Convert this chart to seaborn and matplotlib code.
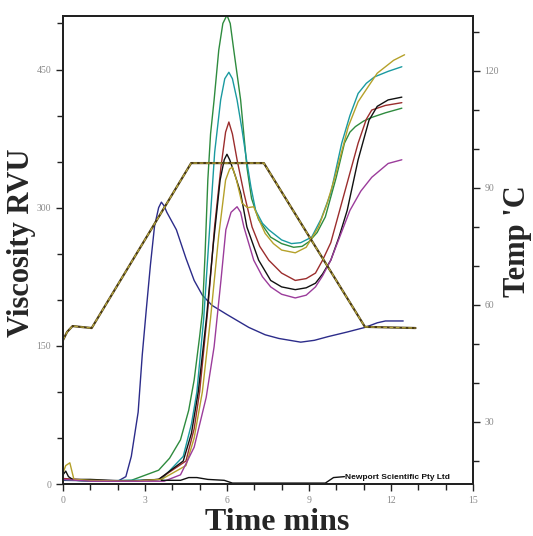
import numpy as np
import pandas as pd
import matplotlib
matplotlib.use("Agg")
import matplotlib.pyplot as plt
import seaborn as sns
from matplotlib.ticker import MultipleLocator

# RVA pasting curves, viscosity (RVU) vs time (min)
blue_t = [0, 2.0, 2.3, 2.5, 2.75, 2.9, 3.05, 3.2, 3.35, 3.5, 3.6, 3.7, 3.8, 4.15, 4.5, 4.8, 5.1, 5.45, 6.0, 6.8, 7.4, 7.9, 8.7, 9.2, 9.7, 10.4, 11.05, 11.5, 11.8, 12.45]
blue_v = [4, 3, 8, 30, 78, 140, 190, 238, 280, 300, 306, 302, 295, 276, 245, 221, 205, 194, 184, 170, 162, 158, 154, 156, 160, 165, 170, 175, 177, 177]

green_t = [0, 1.0, 2.5, 3.5, 3.9, 4.3, 4.6, 4.8, 5.0, 5.1, 5.2, 5.3, 5.4, 5.53, 5.7, 5.85, 6.0, 6.12, 6.25, 6.5, 6.73, 6.9, 7.16, 7.6, 8.0, 8.44, 8.75, 9.0, 9.3, 9.6, 10.0, 10.3, 10.5, 10.7, 11.0, 11.3, 11.8, 12.4]
green_v = [5, 3, 4, 15, 28, 48, 80, 113, 160, 186, 250, 330, 380, 417, 471, 500, 509, 500, 471, 417, 344, 310, 287, 268, 261, 257, 258, 263, 273, 290, 333, 370, 382, 388, 394, 398, 403, 408]

teal_t = [0, 1.0, 2.5, 3.6, 4.4, 4.7, 4.9, 5.15, 5.35, 5.55, 5.77, 5.92, 6.07, 6.2, 6.37, 6.55, 6.7, 6.88, 7.05, 7.3, 7.53, 8.0, 8.36, 8.7, 9.1, 9.45, 9.8, 10.2, 10.5, 10.8, 11.1, 11.4, 11.9, 12.4]
teal_v = [5, 3, 4, 5, 30, 65, 100, 180, 270, 360, 417, 440, 447, 440, 417, 385, 355, 322, 297, 283, 276, 265, 261, 262, 268, 288, 316, 370, 400, 424, 435, 442, 448, 453]

red_t = [0, 1.0, 2.5, 3.5, 4.5, 4.8, 5.0, 5.3, 5.55, 5.78, 5.95, 6.07, 6.2, 6.37, 6.62, 6.92, 7.2, 7.53, 8.0, 8.5, 8.9, 9.24, 9.5, 9.8, 10.3, 10.8, 11.1, 11.3, 11.8, 12.4]
red_v = [6, 4, 3, 5, 25, 60, 100, 190, 280, 344, 382, 393, 380, 352, 316, 279, 258, 243, 229, 221, 223, 229, 243, 262, 316, 370, 396, 406, 411, 414]

black_t = [0, 0.1, 0.2, 0.35, 1.0, 2.5, 3.5, 4.4, 4.7, 4.95, 5.25, 5.5, 5.75, 5.9, 6.0, 6.1, 6.3, 6.5, 6.73, 7.16, 7.6, 8.0, 8.5, 8.9, 9.24, 9.5, 9.8, 10.1, 10.4, 10.8, 11.2, 11.5, 11.9, 12.4]
black_v = [10, 14, 8, 5, 5, 3, 5, 25, 55, 100, 180, 260, 330, 352, 358, 352, 335, 316, 279, 243, 221, 214, 211, 213, 218, 228, 243, 268, 297, 352, 395, 410, 417, 420]

yellow_t = [0, 0.1, 0.25, 0.4, 1.0, 2.5, 3.6, 4.5, 4.8, 5.1, 5.4, 5.7, 5.95, 6.1, 6.2, 6.35, 6.55, 6.75, 6.98, 7.2, 7.4, 7.7, 8.0, 8.5, 8.9, 9.35, 9.65, 9.95, 10.44, 10.8, 11.16, 11.5, 12.1, 12.5]
yellow_v = [12, 20, 23, 5, 4, 3, 5, 20, 50, 100, 180, 270, 330, 342, 344, 330, 305, 300, 301, 285, 272, 261, 254, 251, 257, 279, 303, 333, 388, 415, 431, 446, 460, 466]

purple_t = [0, 1.0, 2.5, 3.7, 4.3, 4.8, 5.24, 5.53, 5.78, 5.96, 6.15, 6.37, 6.5, 6.62, 6.98, 7.3, 7.6, 8.0, 8.5, 8.9, 9.24, 9.5, 9.8, 10.5, 10.9, 11.3, 11.9, 12.4]
purple_v = [5, 3, 3, 3, 10, 40, 94, 149, 221, 276, 295, 301, 295, 279, 243, 225, 214, 206, 202, 205, 214, 226, 243, 297, 318, 333, 348, 352]

base_t = [3.6, 4.3, 4.6, 4.9, 5.3, 5.9, 6.2, 9.6, 9.9, 10.3]
base_v = [4, 4, 7, 7, 5, 4, 1, 1, 7, 8]

# temperature profile ('C)
temp_t = [0, 0.15, 0.35, 1.05, 4.69, 7.35, 11.05, 12.9]
temp_c = [50.9, 53, 54.5, 54, 96.3, 96.3, 54.3, 54]

series = {
    "blue": (blue_t, blue_v, "#2c2c8a"),
    "green": (green_t, green_v, "#2e8b3e"),
    "teal": (teal_t, teal_v, "#1a9aa0"),
    "red": (red_t, red_v, "#9b2d2d"),
    "black": (black_t, black_v, "#111111"),
    "yellow": (yellow_t, yellow_v, "#b5a12a"),
    "purple": (purple_t, purple_v, "#9b3c9b"),
    "base": (base_t, base_v, "#111111"),
}

rows = []
for name, (t, v, _) in series.items():
    for ti, vi in zip(t, v):
        rows.append({"time": ti, "visc": vi, "sample": name})
df = pd.DataFrame(rows)
palette = {name: c for name, (_, _, c) in series.items()}

sns.set_style("ticks")
plt.rcParams["font.family"] = ["Liberation Serif", "DejaVu Serif"]

fig = plt.figure(figsize=(5.33, 5.36), dpi=100)
ax = fig.add_axes([0.1182, 0.097, 0.769, 0.873])

sns.lineplot(data=df, x="time", y="visc", hue="sample", palette=palette,
             estimator=None, sort=False, linewidth=1.0, legend=False, ax=ax)

ax.set_xlim(0, 15)
ax.set_ylim(0, 508)
ax.xaxis.set_major_locator(MultipleLocator(3))
ax.xaxis.set_minor_locator(MultipleLocator(1))
ax.yaxis.set_major_locator(MultipleLocator(150))
ax.yaxis.set_minor_locator(MultipleLocator(50))

ax2 = ax.twinx()
tdf = pd.DataFrame({"time": temp_t, "temp": temp_c})
sns.lineplot(data=tdf, x="time", y="temp", color="#4a3a14", linewidth=1.6, ax=ax2)
sns.lineplot(data=tdf, x="time", y="temp", color="#b8a83c", linewidth=0.9, ax=ax2)
ax2.lines[-1].set_dashes([3, 2])
ax2.set_ylim(14, 134)
ax2.yaxis.set_major_locator(MultipleLocator(30))
ax2.yaxis.set_minor_locator(MultipleLocator(10))

for a in (ax, ax2):
    for s in a.spines.values():
        s.set_visible(True)
        s.set_linewidth(1.4)
        s.set_color("#222222")
    a.tick_params(which="major", direction="out", length=5, width=1.0, color="#222222",
                  labelsize=7, labelcolor="#8a8a8a")
    a.tick_params(which="minor", direction="out", length=4, width=1.0, color="#222222")
    a.set_xlabel("")
    a.set_ylabel("")

ax.set_xticklabels([str(int(v)) for v in ax.get_xticks()])

fig.text(0.041, 0.547, "Viscosity RVU", rotation=90, ha="center", va="center",
         fontsize=22, fontweight="bold", family=["Liberation Serif"])
fig.text(0.97, 0.55, "Temp 'C", rotation=90, ha="center", va="center",
         fontsize=22, fontweight="bold", family=["Liberation Serif"])
fig.text(0.52, 0.026, "Time mins", ha="center", va="center",
         fontsize=23, fontweight="bold", family=["Liberation Serif"])

ax.text(0.688, 0.006, "Newport Scientific Pty Ltd", transform=ax.transAxes,
        ha="left", va="bottom", fontsize=6, fontweight="bold",
        family=["Liberation Sans"], color="#111111")

fig.savefig("out.png", dpi=100)
